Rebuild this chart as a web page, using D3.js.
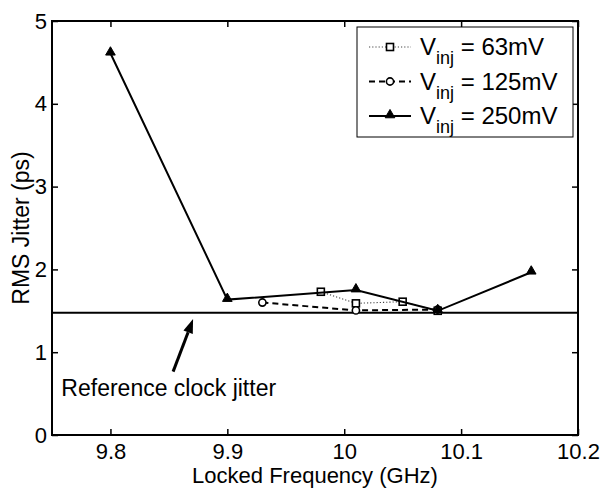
<!DOCTYPE html>
<meta charset="utf-8">
<style>
    body { margin: 0; background: #fff; }
    text {
        font-family: "Liberation Sans", Arial, sans-serif;
        fill: #000;
    }
    .tick text { font-size: 22px; }
    .axis-label { font-size: 23px; }
    .legend text { font-size: 24px; }
</style>
<svg id="mainSVG" width="602" height="489"></svg>
<script src="https://d3js.org/d3.v7.min.js"></script>
<script>
    // values
    var freq63 = [9.98, 10.01, 10.05, 10.08];
    var jitter63 = [1.73, 1.59, 1.61, 1.50];

    var freq125 = [9.93, 10.01, 10.08];
    var jitter125 = [1.60, 1.505, 1.515];

    var freq250 = [9.80, 9.90, 10.01, 10.08, 10.16];
    var jitter250 = [4.61, 1.635, 1.75, 1.50, 1.965];

    var refJitter = 1.477;

    var xTicks = [9.8, 9.9, 10, 10.1, 10.2];
    var yTicks = [0, 1, 2, 3, 4, 5];

    var seriesNames = ["63mV", "125mV", "250mV"];

    var svg = d3.select("svg");

    var plotL = 52, plotR = 578, plotT = 21, plotB = 435;

    var x = d3.scaleLinear().domain([9.75, 10.2]).range([plotL, plotR]);
    var y = d3.scaleLinear().domain([0, 5]).range([plotB, plotT]);

    function pairs(xs, ys) {
        return xs.map(function (v, i) { return [v, ys[i]]; });
    }

    var series = [
        { name: seriesNames[0], data: pairs(freq63, jitter63), dash: "1.2,2", width: 1.1, stroke: "#444", marker: "square" },
        { name: seriesNames[1], data: pairs(freq125, jitter125), dash: "6,4", width: 2, stroke: "#000", marker: "circle" },
        { name: seriesNames[2], data: pairs(freq250, jitter250), dash: null, width: 2, stroke: "#000", marker: "triangle" }
    ];

    // axes, ticks inside on all four sides
    var tickLen = 6;
    svg.append("g")
        .attr("transform", "translate(0," + plotB + ")")
        .call(d3.axisBottom(x).tickValues(xTicks).tickSizeInner(-tickLen).tickSizeOuter(0)
            .tickPadding(8).tickFormat(d3.format("")))
        .call(function (g) { g.select(".domain").remove(); });
    svg.append("g")
        .attr("transform", "translate(0," + plotT + ")")
        .call(d3.axisTop(x).tickValues(xTicks).tickSizeInner(-tickLen).tickSizeOuter(0).tickFormat(""))
        .call(function (g) { g.select(".domain").remove(); });
    svg.append("g")
        .attr("transform", "translate(" + plotL + ",0)")
        .call(d3.axisLeft(y).tickValues(yTicks).tickSizeInner(-tickLen).tickSizeOuter(0)
            .tickPadding(5).tickFormat(d3.format("d")))
        .call(function (g) { g.select(".domain").remove(); });
    svg.append("g")
        .attr("transform", "translate(" + plotR + ",0)")
        .call(d3.axisRight(y).tickValues(yTicks).tickSizeInner(-tickLen).tickSizeOuter(0).tickFormat(""))
        .call(function (g) { g.select(".domain").remove(); });

    svg.selectAll(".tick line").attr("stroke", "#000").attr("stroke-width", 1.5);
    svg.selectAll(".tick text").attr("fill", "#000");

    svg.append("rect")
        .attr("x", plotL).attr("y", plotT)
        .attr("width", plotR - plotL).attr("height", plotB - plotT)
        .attr("fill", "none").attr("stroke", "#000").attr("stroke-width", 2);

    // reference clock line
    svg.append("line")
        .attr("x1", x(9.75)).attr("x2", x(10.2))
        .attr("y1", y(refJitter)).attr("y2", y(refJitter))
        .attr("stroke", "#000").attr("stroke-width", 2);

    var line = d3.line()
        .x(function (d) { return x(d[0]); })
        .y(function (d) { return y(d[1]); });

    function drawMarker(g, type, cx, cy) {
        if (type === "square") {
            g.append("rect").attr("x", cx - 3.5).attr("y", cy - 3.5)
                .attr("width", 7).attr("height", 7)
                .attr("fill", "#fff").attr("stroke", "#000").attr("stroke-width", 1.6);
        } else if (type === "circle") {
            g.append("circle").attr("cx", cx).attr("cy", cy).attr("r", 3.6)
                .attr("fill", "#fff").attr("stroke", "#000").attr("stroke-width", 1.6);
        } else {
            g.append("path")
                .attr("d", d3.symbol().type(d3.symbolTriangle).size(40)())
                .attr("transform", "translate(" + cx + "," + (cy - 1) + ")")
                .attr("fill", "#000").attr("stroke", "#000").attr("stroke-width", 1);
        }
    }

    series.forEach(function (s) {
        var g = svg.append("g");
        g.append("path")
            .datum(s.data)
            .attr("d", line)
            .attr("fill", "none")
            .attr("stroke", s.stroke)
            .attr("stroke-width", s.width)
            .attr("stroke-dasharray", s.dash);
        s.data.forEach(function (d) {
            drawMarker(g, s.marker, x(d[0]), y(d[1]));
        });
    });

    // annotation arrow
    var tail = [9.8536, 0.765], tip = [9.8707, 1.40];
    var x1 = x(tail[0]), y1 = y(tail[1]), x2 = x(tip[0]), y2 = y(tip[1]);
    var ang = Math.atan2(y2 - y1, x2 - x1);
    var headLen = 14, headW = 5;
    var bx = x2 - headLen * Math.cos(ang), by = y2 - headLen * Math.sin(ang);
    svg.append("line")
        .attr("x1", x1).attr("y1", y1).attr("x2", bx).attr("y2", by)
        .attr("stroke", "#000").attr("stroke-width", 3);
    svg.append("path")
        .attr("d", "M" + x2 + "," + y2 +
            "L" + (bx + headW * Math.sin(ang)) + "," + (by - headW * Math.cos(ang)) +
            "L" + (bx - headW * Math.sin(ang)) + "," + (by + headW * Math.cos(ang)) + "Z")
        .attr("fill", "#000");

    svg.append("text")
        .attr("class", "axis-label")
        .attr("x", x(9.758)).attr("y", y(0.47))
        .text("Reference clock jitter");

    // axis labels
    svg.append("text")
        .attr("class", "axis-label")
        .style("font-size", "22px")
        .attr("x", (plotL + plotR) / 2).attr("y", 483)
        .attr("text-anchor", "middle")
        .text("Locked Frequency (GHz)");
    svg.append("text")
        .attr("class", "axis-label")
        .attr("transform", "translate(29," + ((plotT + plotB) / 2) + ") rotate(-90)")
        .attr("text-anchor", "middle")
        .text("RMS Jitter (ps)");

    // legend
    var legend = svg.append("g").attr("class", "legend");
    legend.append("rect")
        .attr("x", 357).attr("y", 27).attr("width", 216).attr("height", 110)
        .attr("fill", "#fff").attr("stroke", "#000").attr("stroke-width", 1);
    series.forEach(function (s, i) {
        var cy = 47 + i * 34.5;
        legend.append("line")
            .attr("x1", 369).attr("x2", 411).attr("y1", cy).attr("y2", cy)
            .attr("stroke", s.stroke).attr("stroke-width", s.width)
            .attr("stroke-dasharray", s.dash);
        drawMarker(legend, s.marker, 390, cy);
        var t = legend.append("text").attr("x", 420).attr("y", cy + 8);
        t.append("tspan").text("V");
        t.append("tspan").attr("dy", 9).style("font-size", "18px").text("inj");
        t.append("tspan").attr("dy", -9).text(" = " + s.name);
    });
</script>
